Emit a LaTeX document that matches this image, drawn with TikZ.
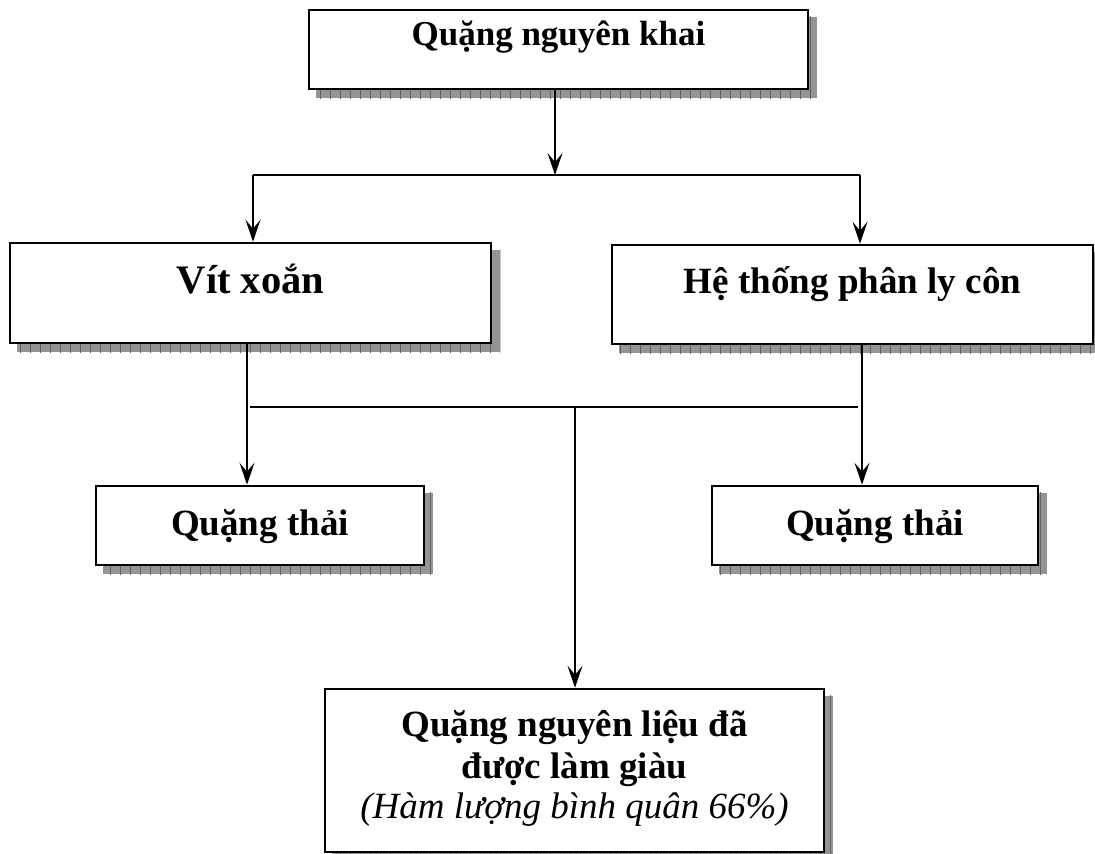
\documentclass[tikz,border=0pt]{standalone}
\usepackage{fontspec}
\setmainfont{Liberation Serif}
\usetikzlibrary{arrows.meta}
\pgfdeclarelayer{background}
\pgfsetlayers{background,main}
\newcommand\boxshadow[1]{%
  \begin{scope}
    \path[clip] ([shift={(8,8)}]#1.north west) rectangle ([shift={(8,8)}]#1.south east);
    \fill[black!42] ([shift={(8,8)}]#1.north west) rectangle ([shift={(8,8)}]#1.south east);
    \draw[black!62, line width=0.7pt, step=10] (0,0) grid (1100,860);
  \end{scope}}
\begin{document}
\begin{tikzpicture}[x=1pt,y=-1pt,
  box/.style={draw=black, line width=2.6pt, fill=white, rectangle, inner sep=0pt},
  lbl/.style={anchor=base, inner sep=0pt, font=\bfseries},
  conn/.style={line width=1.8pt},
  arr/.style={conn, -{Stealth[length=22pt,width=15pt,inset=9pt]}}
]
\useasboundingbox (0,0) rectangle (1095,854);
% boxes
\node[box, minimum width=499pt, minimum height=79pt] (top) at (558.5,49.5) {};
\node[box, minimum width=481pt, minimum height=100pt] (vit) at (250.5,293) {};
\node[box, minimum width=481pt, minimum height=99pt] (he) at (852.5,294.5) {};
\node[box, minimum width=328pt, minimum height=79pt] (qt1) at (260,525.5) {};
\node[box, minimum width=326pt, minimum height=79pt] (qt2) at (875,525.5) {};
\node[box, minimum width=499pt, minimum height=163pt] (bot) at (574.5,770.5) {};
\begin{pgfonlayer}{background}
  \boxshadow{top}
  \boxshadow{vit}
  \boxshadow{he}
  \boxshadow{qt1}
  \boxshadow{qt2}
  \boxshadow{bot}
\end{pgfonlayer}
% labels
\node[lbl, font=\bfseries\fontsize{35}{40}\selectfont] (ttop) at (558.5,45) {Quặng nguyên khai};
\node[lbl, font=\bfseries\fontsize{40.5}{46}\selectfont] (tvit) at (250.5,293) {Vít xoắn};
\node[lbl, font=\bfseries\fontsize{37}{44}\selectfont] (the) at (852.5,293) {Hệ thống phân ly côn};
\node[lbl, font=\bfseries\fontsize{37}{42}\selectfont] (tqt1) at (260,535) {Quặng thải};
\node[lbl, font=\bfseries\fontsize{37}{42}\selectfont] (tqt2) at (875,535) {Quặng thải};
\node[lbl, font=\bfseries\fontsize{37}{42}\selectfont] (tb1) at (574.5,736) {Quặng nguyên liệu đã};
\node[lbl, font=\bfseries\fontsize{37}{42}\selectfont] (tb2) at (574.5,778) {được làm giàu};
\node[lbl, font=\itshape\fontsize{37}{42}\selectfont] (tb3) at (574.5,818) {(Hàm lượng bình quân 66\%)};
% junction coordinates
\coordinate (j1) at (555,175);
\coordinate (jl) at (253,175);
\coordinate (jr) at (860,175);
\coordinate (k1) at (575,407);
\coordinate (kl) at (250,407);
\coordinate (kr) at (858,407);
% connectors
\draw[arr] (top.south -| j1) -- (j1);
\draw[conn] (jl) -- (jr);
\draw[arr] (jl) -- (vit.north -| jl);
\draw[arr] (jr) -- (he.north -| jr);
\draw[arr] ([xshift=-3.5pt]vit.south) -- ([xshift=-3.5pt]vit.south |- qt1.north);
\draw[arr] ([xshift=9.5pt]he.south) -- ([xshift=9.5pt]he.south |- qt2.north);
\draw[conn] (kl) -- (kr);
\draw[arr] (k1) -- (bot.north -| k1);
\end{tikzpicture}
\end{document}
